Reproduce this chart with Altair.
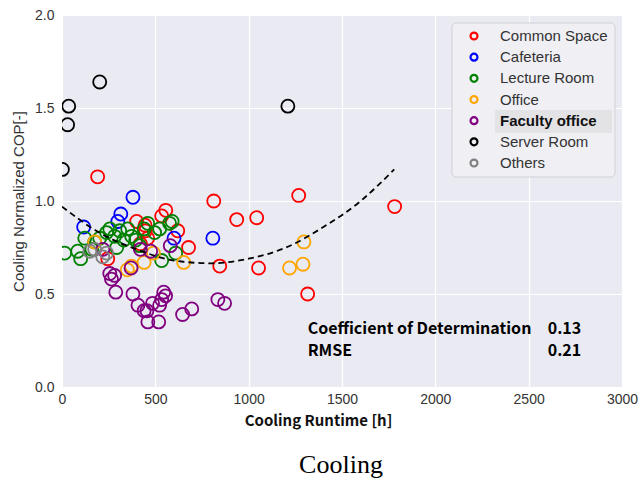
import altair as alt
import pandas as pd

# Room categories and their marker colours
categories = ["Common Space", "Cafeteria", "Lecture Room", "Office",
              "Faculty office", "Server Room", "Others"]
colors = ["#ff0000", "#0000ff", "#008000", "#ffa500", "#800080", "#000000", "#808080"]

# Cooling runtime [h] and normalized COP per room category
common_x = [191, 400, 420, 445, 447, 459, 245, 534, 556, 620, 678, 813, 845, 936, 1043, 1053, 1268, 1316, 1782]
common_y = [1.13, 0.89, 0.77, 0.87, 0.84, 0.80, 0.69, 0.92, 0.95, 0.84, 0.75, 1.00, 0.65, 0.90, 0.91, 0.64, 1.03, 0.50, 0.97]

cafeteria_x = [116, 299, 315, 380, 600, 808]
cafeteria_y = [0.86, 0.89, 0.93, 1.02, 0.80, 0.80]

lecture_x = [14, 84, 100, 122, 160, 175, 202, 239, 256, 282, 293, 309, 331, 352, 373,
             395, 416, 440, 459, 496, 523, 534, 576, 590, 609]
lecture_y = [0.72, 0.73, 0.69, 0.80, 0.74, 0.78, 0.80, 0.83, 0.85, 0.81, 0.75, 0.84, 0.79, 0.85, 0.81,
             0.79, 0.76, 0.85, 0.88, 0.83, 0.85, 0.68, 0.88, 0.89, 0.72]

office_x = [175, 350, 372, 440, 490, 652, 1219, 1291, 1296]
office_y = [0.78, 0.63, 0.65, 0.67, 0.72, 0.67, 0.64, 0.66, 0.78]

faculty_x = [219, 256, 265, 282, 288, 380, 407, 440, 455, 460, 485, 518, 523, 534, 545,
             555, 646, 695, 835, 871, 420, 475, 580, 370]
faculty_y = [0.74, 0.61, 0.58, 0.60, 0.51, 0.50, 0.44, 0.41, 0.41, 0.35, 0.45, 0.35, 0.44, 0.47, 0.51,
             0.49, 0.39, 0.42, 0.47, 0.45, 0.74, 0.73, 0.76, 0.64]

server_x = [2, 30, 36, 202, 1210]
server_y = [1.17, 1.41, 1.51, 1.64, 1.51]

others_x = [149, 175, 218, 239]
others_y = [0.73, 0.74, 0.70, 0.72]

# Quadratic trend curve
curve_x = [0, 200, 400, 600, 800, 1000, 1200, 1400, 1600, 1780]
curve_y = [0.97, 0.83, 0.74, 0.68, 0.665, 0.69, 0.75, 0.86, 1.00, 1.17]

# Fit statistics
stat_labels = ["Coefficient of Determination", "RMSE"]
stat_values = [0.13, 0.21]
stat_x = 1316
stat_value_x = 2602
stat_y = [0.312, 0.195]

caption = ["Cooling"]

series = [
    (categories[0], common_x, common_y),
    (categories[1], cafeteria_x, cafeteria_y),
    (categories[2], lecture_x, lecture_y),
    (categories[3], office_x, office_y),
    (categories[4], faculty_x, faculty_y),
    (categories[5], server_x, server_y),
    (categories[6], others_x, others_y),
]
points_df = pd.concat(
    [pd.DataFrame({"runtime": xs, "cop": ys, "category": cat}) for cat, xs, ys in series],
    ignore_index=True,
)
curve_df = pd.DataFrame({"runtime": curve_x, "cop": curve_y})
stats_df = pd.DataFrame({
    "label": stat_labels,
    "value": [f"{v:.2f}" for v in stat_values],
    "lx": [stat_x] * len(stat_labels),
    "vx": [stat_value_x] * len(stat_labels),
    "cop": stat_y,
})
legend_df = pd.DataFrame({"category": categories})

TICK_FONT = "Liberation Sans"
JP_FONT = "Noto Sans CJK JP"

x_scale = alt.Scale(domain=[0, 3000], nice=False, zero=False)
y_scale = alt.Scale(domain=[0, 2], nice=False, zero=False)
color_scale = alt.Scale(domain=categories, range=colors)

x_axis = alt.Axis(
    values=[0, 500, 1000, 1500, 2000, 2500, 3000], format="d",
    labelFont=TICK_FONT, labelFontSize=14, labelColor="#333333", labelPadding=5,
    labelFlush=False, ticks=False, domain=False,
    grid=True, gridColor="white", gridWidth=1.2,
    title="Cooling Runtime [h]", titleFont=JP_FONT, titleFontWeight="bold",
    titleFontSize=15, titleColor="#111111", titlePadding=7, titleX=256,
)
y_axis = alt.Axis(
    values=[0, 0.5, 1.0, 1.5, 2.0], format=".1f",
    labelFont=TICK_FONT, labelFontSize=14, labelColor="#333333", labelPadding=8,
    labelFlush=False, ticks=False, domain=False,
    grid=True, gridColor="white", gridWidth=1.2,
    title="Cooling Normalized COP[-]", titleFont=TICK_FONT, titleFontWeight="normal",
    titleFontSize=15, titleColor="#333333", titlePadding=8,
)

points = alt.Chart(points_df).mark_point(
    shape="circle", filled=False, size=170, strokeWidth=1.8, opacity=1, clip=True
).encode(
    x=alt.X("runtime:Q", scale=x_scale, axis=x_axis),
    y=alt.Y("cop:Q", scale=y_scale, axis=y_axis),
    color=alt.Color("category:N", scale=color_scale, legend=None),
)

curve = alt.Chart(curve_df).mark_line(
    color="black", strokeDash=[6, 4], strokeWidth=1.8, interpolate="monotone", clip=True
).encode(
    x=alt.X("runtime:Q", scale=x_scale),
    y=alt.Y("cop:Q", scale=y_scale),
)

stat_text = alt.Chart(stats_df).mark_text(
    align="left", baseline="middle", font=JP_FONT, fontWeight="bold",
    fontSize=16, color="black"
).encode(
    x=alt.X("lx:Q", scale=x_scale),
    y=alt.Y("cop:Q", scale=y_scale),
    text="label:N",
)
stat_vals = alt.Chart(stats_df).mark_text(
    align="left", baseline="middle", font=JP_FONT, fontWeight="bold",
    fontSize=16, color="black"
).encode(
    x=alt.X("vx:Q", scale=x_scale),
    y=alt.Y("cop:Q", scale=y_scale),
    text="value:N",
)

caption_text = alt.Chart(pd.DataFrame({"caption": caption})).mark_text(
    align="center", baseline="middle", font="Liberation Serif", fontSize=26, color="black"
).encode(
    x=alt.value(279), y=alt.value(450), text="caption:N",
)

main = alt.layer(points, curve, stat_text, stat_vals, caption_text)

# Legend box drawn as marks
legend_y = alt.Y(
    "category:N",
    scale=alt.Scale(type="point", domain=categories, range=[21, 148], padding=0),
    axis=None,
)
box_df = pd.DataFrame({"box": [0]})
legend_box = alt.Chart(box_df).mark_rect(
    fill="#efeff4", stroke="#cfcfd4", strokeWidth=1, cornerRadius=4
).encode(
    x=alt.value(390), x2=alt.value(553), y=alt.value(8), y2=alt.value(162),
)
highlight = alt.Chart(box_df).mark_rect(fill="#e3e3e6").encode(
    x=alt.value(433), x2=alt.value(550), y=alt.value(95), y2=alt.value(118),
)
legend_marks = alt.Chart(legend_df).mark_point(
    shape="circle", filled=False, size=48, strokeWidth=2.2, opacity=1
).encode(
    x=alt.value(412), y=legend_y,
    color=alt.Color("category:N", scale=color_scale, legend=None),
)
legend_labels = alt.Chart(legend_df).transform_filter(
    alt.datum.category != "Faculty office"
).mark_text(
    align="left", baseline="middle", font=TICK_FONT, fontSize=15, color="#333333"
).encode(x=alt.value(438), y=legend_y, text="category:N")
legend_bold = alt.Chart(legend_df).transform_filter(
    alt.datum.category == "Faculty office"
).mark_text(
    align="left", baseline="middle", font=TICK_FONT, fontSize=15,
    fontWeight="bold", color="#111111"
).encode(x=alt.value(438), y=legend_y, text="category:N")

legend = alt.layer(legend_box, highlight, legend_marks, legend_labels, legend_bold)

chart = alt.layer(main, legend).resolve_scale(y="independent").properties(
    width=560, height=372,
    autosize=alt.AutoSizeParams(type="none"),
    padding={"left": 62, "top": 15, "right": 19, "bottom": 97},
    background="white",
).configure_view(fill="#eaeaf2", stroke=None)

chart.save("out.html", embed_options={"renderer": "svg", "actions": False})
